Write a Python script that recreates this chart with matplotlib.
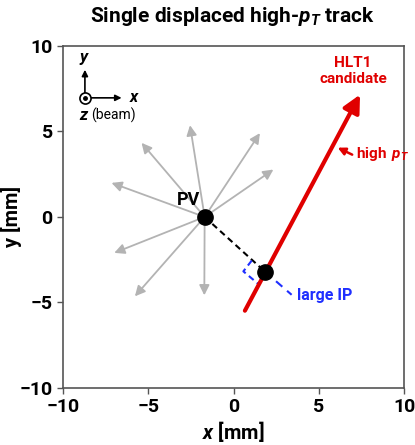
import matplotlib
matplotlib.use("Agg")
import matplotlib.pyplot as plt

plt.rcParams['font.family'] = ['Roboto', 'DejaVu Sans']
plt.rcParams['mathtext.fontset'] = 'custom'
plt.rcParams['mathtext.it'] = 'Roboto:italic:bold'
plt.rcParams['mathtext.rm'] = 'Roboto:bold'

# primary vertex and displaced vertex (mm)
pv = (-1.7, 0.0)
sv = (1.84, -3.2)

# other tracks from the PV: arrow tips (mm)
tip_x = [-2.56, -5.4, 1.54, 2.33, -7.16, -7.0, -5.79, -1.72]
tip_y = [5.36, 4.33, 4.9, 2.77, 1.99, -2.1, -4.64, -4.58]

# high-pT track: start and tip (mm)
trk_x = [0.66, 7.41]
trk_y = [-5.48, 7.15]

# impact parameter extension and right-angle marker
ip_end = (3.4, -4.55)
corner_x = [1.06, 0.57, 1.45]
corner_y = [-2.55, -3.18, -3.92]

fig = plt.figure(figsize=(4.15, 4.45), dpi=100)
ax = fig.add_axes([0.152, 0.128, 0.822, 0.769])
ax.set_xlim(-10, 10)
ax.set_ylim(-10, 10)

gray = '#b3b3b3'
for tx, ty in zip(tip_x, tip_y):
    ax.annotate('', xy=(tx, ty), xytext=pv,
                arrowprops=dict(arrowstyle='-|>', color=gray, lw=1.3,
                                mutation_scale=15, shrinkA=0, shrinkB=0))

red = '#e00000'
ax.annotate('', xy=(trk_x[1], trk_y[1]), xytext=(trk_x[0], trk_y[0]),
            arrowprops=dict(arrowstyle='-|>', color=red, lw=3,
                            mutation_scale=26, shrinkA=0, shrinkB=0))

# PV -> SV
ax.plot([pv[0], sv[0]], [pv[1], sv[1]], color='black', ls=(0, (3, 2)), lw=1.5)
blue = '#1f2fff'
ax.plot([sv[0], ip_end[0]], [sv[1], ip_end[1]], color=blue, ls=(0, (4, 3)), lw=1.5)
ax.plot(corner_x, corner_y, color=blue, ls=(0, (3, 2)), lw=1.5)

ax.plot([pv[0], sv[0]], [pv[1], sv[1]], 'o', color='black', ms=11, zorder=5)

ax.text(-2.66, 1.0, 'PV', fontsize=13, fontweight='bold', ha='center', va='center')
ax.text(5.35, -4.6, 'large IP', fontsize=11.5, fontweight='bold', color=blue,
        ha='center', va='center')
ax.text(7.0, 8.55, 'HLT1\ncandidate', fontsize=11, fontweight='bold', color=red,
        ha='center', va='center', linespacing=1.2)
ax.text(7.2, 3.7, r'high $\,p_T$', fontsize=11, fontweight='bold', color=red,
        ha='left', va='center')
ax.annotate('', xy=(6.1, 4.05), xytext=(6.95, 3.64),
            arrowprops=dict(arrowstyle='-|>', color=red, lw=1.8,
                            mutation_scale=11, shrinkA=0, shrinkB=0))

# coordinate system sketch
ox, oy = -8.72, 6.96
ax.annotate('', xy=(ox, 8.6), xytext=(ox, oy),
            arrowprops=dict(arrowstyle='-|>', color='black', lw=1.2,
                            mutation_scale=9, shrinkA=0, shrinkB=0))
ax.annotate('', xy=(-6.57, oy), xytext=(ox, oy),
            arrowprops=dict(arrowstyle='-|>', color='black', lw=1.2,
                            mutation_scale=9, shrinkA=0, shrinkB=0))
ax.plot([ox], [oy], 'o', ms=8, mfc='white', mec='black', mew=1.2, zorder=6)
ax.plot([ox], [oy], 'o', ms=2.5, color='black', zorder=7)
ax.text(ox, 9.25, '$y$', fontsize=12, ha='center', va='center')
ax.text(-6.15, oy, '$x$', fontsize=12, ha='left', va='center')
ax.text(-9.05, 5.95, '$z$', fontsize=12, ha='left', va='center')
ax.text(-8.35, 5.95, '(beam)', fontsize=10, ha='left', va='center')

ax.set_xticks([-10, -5, 0, 5, 10])
ax.set_yticks([-10, -5, 0, 5, 10])
ax.tick_params(labelsize=14, length=4, width=1, color='#555555', direction='out')
for lab in ax.get_xticklabels() + ax.get_yticklabels():
    lab.set_fontweight('bold')
for s in ax.spines.values():
    s.set_color('#555555')
    s.set_linewidth(1.2)

ax.set_xlabel('$x$ [mm]', fontsize=14.5, fontweight='bold', labelpad=2)
ax.set_ylabel('y [mm]', fontsize=14.5, fontweight='bold')
ax.yaxis.set_label_coords(-0.12, 0.5)
fig.text(0.56, 0.962, r'Single displaced high-$p_T$ track', fontsize=15,
         fontweight='bold', ha='center', va='center')

fig.savefig('out.png', dpi=100)
